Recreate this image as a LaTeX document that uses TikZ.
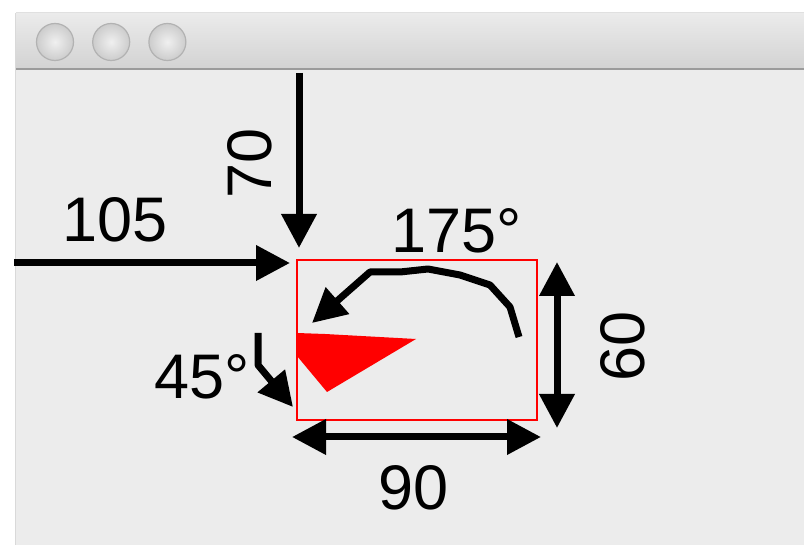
\documentclass[tikz,border=0pt]{standalone}
\usepackage{fontspec}
\setmainfont{Liberation Sans}
\usetikzlibrary{arrows.meta, positioning, calc}

\definecolor{winbg}{HTML}{ECECEC}
\definecolor{bartop}{HTML}{EBEBEB}
\definecolor{barbot}{HTML}{D3D3D3}
\definecolor{barline}{HTML}{9B9B9B}

\begin{document}
\begin{tikzpicture}[
    x=1pt, y=-1pt,
    big/.style={draw=none, inner sep=0pt, font=\fontsize{63}{63}\selectfont},
    dimarrow/.style={line width=7pt, -{Triangle[length=34pt, width=34pt]}},
    dimboth/.style={line width=7pt, {Triangle[length=34pt, width=34pt]}-{Triangle[length=34pt, width=34pt]}},
    knob/.style={circle, inner sep=0pt, minimum size=37pt, draw=black!30, line width=1.2pt, inner color=black!6, outer color=black!20}
  ]
  % window
  \useasboundingbox (0,0) rectangle (804,545);
  \fill[white] (0,0) rectangle (804,545);
  \fill[winbg] (16,70) rectangle (804,545);
  \shade[top color=bartop, bottom color=barbot] (16,13) rectangle (804,68);
  \draw[barline, line width=2pt] (16,69) -- (804,69);
  \draw[black!15] (15.5,13) -- (15.5,545);
  \draw[black!12] (16,12.5) -- (804,12.5);
  \node[knob] (knob1) at (55,42) {};
  \node[knob, right=18pt of knob1] (knob2) {};
  \node[knob, right=18pt of knob2] (knob3) {};

  % shape in the box
  \fill[red] (297,333) -- (325,334) -- (416,339) -- (327,392) -- (297,356) -- cycle;
  \node[draw=red, line width=2pt, minimum width=240pt, minimum height=160pt,
        inner sep=0pt, outer sep=0pt] (box) at (417,340) {};

  % offsets
  \coordinate (top70) at (299,73);
  \coordinate (end70) at (299,248);
  \draw[dimarrow] (top70) -- (end70);
  \coordinate (left105) at (14,263);
  \coordinate (end105) at (290,263);
  \draw[dimarrow] (left105) -- (end105);

  % size
  \coordinate (w0) at (292,437);
  \coordinate (w1) at (541,437);
  \draw[dimboth] (w0) -- (w1);
  \coordinate (h0) at (557,262);
  \coordinate (h1) at (557,428);
  \draw[dimboth] (h0) -- (h1);

  % angles
  \coordinate (arc0) at (519,337);
  \coordinate (arc1) at (312,323);
  \draw[dimarrow, line join=round] (arc0) -- (510,307) -- (490,285) -- (460,275)
    -- (428,269) -- (400,272) -- (370,272) -- (arc1);
  \coordinate (a45) at (258,333);
  \coordinate (b45) at (293,407);
  \draw[dimarrow, line join=round] (a45) -- (258,365) -- (b45);

  % labels
  \node[big, anchor=base] (lbl105) at (115,242) {105};
  \node[big, anchor=base, rotate=90] (lbl70) at (271,163) {70};
  \node[big, anchor=base] (lbl175) at (457,253) {175°};
  \node[big, anchor=base] (lbl45) at (202,399) {45°};
  \node[big, anchor=base] (lbl90) at (414,510) {90};
  \node[big, anchor=base, rotate=90] (lbl60) at (644,346) {60};
\end{tikzpicture}
\end{document}
